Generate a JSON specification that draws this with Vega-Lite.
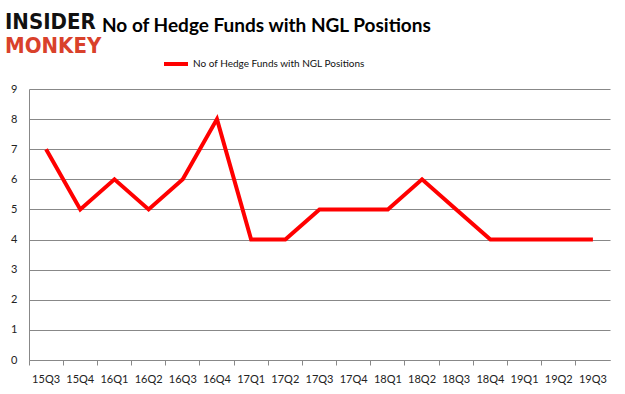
{
  "$schema": "https://vega.github.io/schema/vega-lite/v6.json",
  "width": 581,
  "height": 271,
  "autosize": {"type": "none"},
  "padding": {"left": 29, "top": 89, "right": 15, "bottom": 34},
  "background": "white",
  "title": {
    "text": "INSIDER",
    "subtitle": "MONKEY",
    "anchor": "start",
    "frame": "group",
    "dx": -24,
    "offset": -41,
    "font": "DejaVu Sans Condensed, DejaVu Sans",
    "fontSize": 22,
    "fontWeight": "bold",
    "color": "#111111",
    "subtitleFont": "DejaVu Sans Condensed, DejaVu Sans",
    "subtitleFontSize": 22,
    "subtitleFontWeight": "bold",
    "subtitleColor": "#d9412b",
    "subtitlePadding": 2
  },
  "data": {
    "values": [
      {"q": "15Q3", "n": 7},
      {"q": "15Q4", "n": 5},
      {"q": "16Q1", "n": 6},
      {"q": "16Q2", "n": 5},
      {"q": "16Q3", "n": 6},
      {"q": "16Q4", "n": 8},
      {"q": "17Q1", "n": 4},
      {"q": "17Q2", "n": 4},
      {"q": "17Q3", "n": 5},
      {"q": "17Q4", "n": 5},
      {"q": "18Q1", "n": 5},
      {"q": "18Q2", "n": 6},
      {"q": "18Q3", "n": 5},
      {"q": "18Q4", "n": 4},
      {"q": "19Q1", "n": 4},
      {"q": "19Q2", "n": 4},
      {"q": "19Q3", "n": 4}
    ]
  },
  "mark": {"type": "line", "strokeWidth": 4, "strokeJoin": "miter"},
  "encoding": {
    "x": {
      "field": "q",
      "type": "ordinal",
      "sort": null,
      "scale": {"type": "band", "paddingInner": 0, "paddingOuter": 0},
      "axis": {
        "title": null,
        "labelAngle": 0,
        "bandPosition": 0,
        "labelOffset": 0,
        "labelPadding": 8,
        "labelFont": "Lato",
        "labelFontSize": 11,
        "labelColor": "#222222",
        "tickColor": "#888888",
        "tickSize": 5,
        "domainColor": "#888888",
        "grid": false
      }
    },
    "y": {
      "field": "n",
      "type": "quantitative",
      "scale": {"domain": [0, 9], "nice": false},
      "axis": {
        "title": null,
        "values": [0, 1, 2, 3, 4, 5, 6, 7, 8, 9],
        "ticks": false,
        "labelPadding": 12,
        "labelFont": "Lato",
        "labelFontSize": 11,
        "labelColor": "#222222",
        "domainColor": "#888888",
        "gridColor": "#888888",
        "gridWidth": 1
      }
    },
    "color": {
      "datum": "No of Hedge Funds with NGL Positions",
      "type": "nominal",
      "scale": {"range": ["#ff0000"]},
      "legend": {
        "orient": "none",
        "legendX": 73,
        "legendY": -72,
        "title": "No of Hedge Funds with NGL Positions",
        "titleFont": "Lato",
        "titleFontSize": 19,
        "titleFontWeight": "bold",
        "titleColor": "#000000",
        "titlePadding": 14,
        "titleLimit": 600,
        "labelFont": "Lato",
        "labelFontSize": 10,
        "labelColor": "#111111",
        "labelLimit": 400,
        "labelOffset": 3,
        "symbolType": "stroke",
        "symbolSize": 576,
        "symbolStrokeWidth": 4,
        "symbolOffset": 60
      }
    }
  },
  "config": {"view": {"stroke": null}}
}
